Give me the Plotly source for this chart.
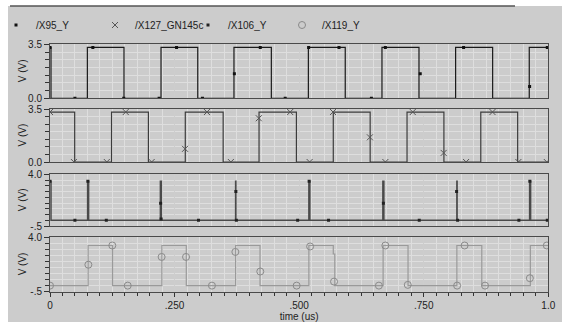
import plotly.graph_objects as go

# ---------------- data (time in us, value in V) ----------------
x95_t = [0, 0.002, 0.075, 0.1485, 0.2228, 0.2965, 0.3692, 0.4442, 0.5185, 0.5925, 0.6662, 0.7405, 0.814, 0.8883, 0.9618, 1.0]
x95_v = [3.3, 0, 3.3, 0, 3.3, 0, 3.3, 0, 3.3, 0, 3.3, 0, 3.3, 0, 3.3, 3.3]
x95_mt = [0, 0.05, 0.086, 0.148, 0.219, 0.254, 0.306, 0.37, 0.422, 0.472, 0.519, 0.58, 0.645, 0.673, 0.743, 0.83, 0.9625, 0.998]
x95_mv = [3.3, 0, 3.3, 0, 0, 3.3, 0, 1.59, 3.3, 0, 3.3, 3.3, 0, 3.3, 1.59, 3.3, 0.76, 3.3]

x127_t = [0, 0.0495, 0.1235, 0.1975, 0.2715, 0.3475, 0.4195, 0.4945, 0.5685, 0.6425, 0.7165, 0.7905, 0.8645, 0.9385, 1.0]
x127_v = [3.3, 0, 3.3, 0, 3.3, 0, 3.3, 0, 3.3, 0, 3.3, 0, 3.3, 0, 0]
x127_mt = [0, 0.048, 0.114, 0.152, 0.204, 0.271, 0.315, 0.363, 0.419, 0.482, 0.521, 0.568, 0.642, 0.673, 0.728, 0.79, 0.835, 0.888, 0.94, 0.997]
x127_mv = [3.3, 0, 0, 3.3, 0, 0.87, 3.3, 0, 2.89, 3.3, 0, 3.3, 1.63, 0, 3.3, 0.6, 0, 3.3, 0, 0]

x106_t = [0, 0.002, 0.0755, 0.0775, 0.2215, 0.2235, 0.3725, 0.373, 0.5195, 0.5215, 0.668, 0.67, 0.8165, 0.817, 0.9625, 0.9645, 1.0]
x106_v = [3.4, 0, 3.4, 0, 3.4, 0, 3.4, 0, 3.4, 0, 3.4, 0, 3.4, 0, 3.4, 0, 0]
x106_mt = [0, 0.05, 0.076, 0.113, 0.222, 0.223, 0.298, 0.373, 0.374, 0.497, 0.52, 0.559, 0.669, 0.741, 0.816, 0.818, 0.941, 0.963, 0.998]
x106_mv = [3.4, 0, 3.4, 0, 1.48, 0.1, 0, 2.5, 0, 0, 3.4, 0, 1.48, 0, 2.5, 0, 0, 3.4, 0]

x119_t = [0, 0.0765, 0.1255, 0.2245, 0.2735, 0.3725, 0.4215, 0.5195, 0.5685, 0.5715, 0.6685, 0.7185, 0.8165, 0.8665, 0.964, 1.0]
x119_v = [0, 3.3, 0, 3.3, 0, 3.3, 0, 3.3, 2.6, 0, 3.3, 0, 3.3, 0, 3.3, 3.3]
x119_mt = [0, 0.077, 0.125, 0.156, 0.224, 0.273, 0.325, 0.372, 0.422, 0.495, 0.522, 0.57, 0.66, 0.673, 0.718, 0.817, 0.832, 0.873, 0.963, 0.997]
x119_mv = [0, 1.72, 3.3, 0, 2.36, 2.36, 0, 2.77, 1.16, 0, 3.22, 0.33, 0, 3.3, 0.06, 0, 3.3, 0, 0.61, 3.3]

names = ["/X95_Y", "/X127_GN145c", "/X106_Y", "/X119_Y"]
x_tickvals = [0, 0.25, 0.5, 0.75, 1.0]
x_ticktext = ["0", ".250", ".500", ".750", "1.0"]
y_ranges = [[0, 3.5], [0, 3.5], [-0.5, 4.0], [-0.5, 4.0]]
y_ticktext = [["0.0", "3.5"], ["0.0", "3.5"], ["-.5", "4.0"], ["-.5", "4.0"]]

W, H = 562, 324
def py(p):
    return 1 - p / H

FONT = "Liberation Sans, Arial, sans-serif"
x_dom = [50 / W, 548.3 / W]
y_doms = [[py(98.3), py(44.3)], [py(162), py(109)], [py(226), py(174.3)], [py(291.7), py(237)]]
legend_text_x = [36, 135, 228, 322]

series = [
    (x95_t, x95_v, x95_mt, x95_mv, "#1a1a1a", 1.2, dict(symbol="square", size=3, color="#111")),
    (x127_t, x127_v, x127_mt, x127_mv, "#3c3c3c", 1.2, dict(symbol="x-thin-open", size=6, color="#555", line=dict(width=1, color="#555"))),
    (x106_t, x106_v, x106_mt, x106_mv, "#4a4a4a", 1.5, dict(symbol="square", size=3, color="#222")),
    (x119_t, x119_v, x119_mt, x119_mv, "#9a9a9a", 1.2, dict(symbol="circle-open", size=7, color="#8a8a8a", line=dict(width=1, color="#8a8a8a"))),
]

fig = go.Figure()
for i, (t, v, mt, mv, col, lw, mk) in enumerate(series):
    xa = "x" if i == 0 else f"x{i+1}"
    ya = "y" if i == 0 else f"y{i+1}"
    lg = "legend" if i == 0 else f"legend{i+1}"
    fig.add_trace(go.Scatter(x=t, y=v, mode="lines", line=dict(color=col, width=lw, shape="hv"),
                             xaxis=xa, yaxis=ya, showlegend=False, hoverinfo="skip"))
    fig.add_trace(go.Scatter(x=mt, y=mv, mode="markers", marker=mk, name=names[i],
                             xaxis=xa, yaxis=ya, showlegend=True, legend=lg))

layout = dict(
    width=W, height=H,
    margin=dict(l=0, r=0, t=0, b=0, autoexpand=False),
    paper_bgcolor="#ffffff",
    plot_bgcolor="#efefef",
    font=dict(family=FONT, size=10, color="#222"),
    shapes=[
        dict(type="rect", xref="paper", yref="paper", x0=8 / W, x1=1, y0=py(322), y1=py(6),
             fillcolor="#cccccc", line=dict(width=0), layer="below"),
        dict(type="line", xref="paper", yref="paper", x0=10 / W, x1=515 / W, y0=py(6), y1=py(6),
             line=dict(color="#555", width=1.5), layer="above"),
    ],
    annotations=[],
)

for i in range(4):
    lg = "legend" if i == 0 else f"legend{i+1}"
    layout[lg] = dict(orientation="h", x=(legend_text_x[i] - 40) / W, xanchor="left",
                      y=py(25), yanchor="middle", bgcolor="rgba(0,0,0,0)",
                      font=dict(family=FONT, size=10, color="#222"))

for i in range(4):
    sx = "xaxis" if i == 0 else f"xaxis{i+1}"
    sy = "yaxis" if i == 0 else f"yaxis{i+1}"
    anchor_y = "y" if i == 0 else f"y{i+1}"
    anchor_x = "x" if i == 0 else f"x{i+1}"
    bottom = (i == 3)
    layout[sx] = dict(
        domain=x_dom, range=[0, 1], anchor=anchor_y,
        showline=True, mirror=True, linecolor="#4a4a4a", linewidth=1,
        tickmode="array", tickvals=x_tickvals, ticktext=x_ticktext,
        showgrid=True, gridcolor="#cdcdcd", gridwidth=1, zeroline=False,
        showticklabels=bottom, ticks="outside" if bottom else "", ticklen=4, tickcolor="#333",
        tickfont=dict(family=FONT, size=10, color="#222"),
        minor=dict(tickmode="linear", tick0=0, dtick=0.025, showgrid=True, gridcolor="#dedede",
                   ticks="outside" if bottom else "", ticklen=3, tickcolor="#333"),
    )
    if bottom:
        layout[sx]["title"] = dict(text="time (us)", font=dict(family=FONT, size=10, color="#222"), standoff=0)
    lo, hi = y_ranges[i]
    layout[sy] = dict(
        domain=y_doms[i], range=[lo, hi], anchor=anchor_x,
        showline=True, mirror=True, linecolor="#4a4a4a", linewidth=1,
        tickmode="array", tickvals=[lo, hi], ticktext=y_ticktext[i],
        showgrid=False, zeroline=False,
        ticks="outside", ticklen=5, tickcolor="#333",
        tickfont=dict(family=FONT, size=10, color="#222"),
        minor=dict(tickmode="linear", tick0=lo, dtick=0.5, showgrid=True, gridcolor="#dedede",
                   ticks="outside", ticklen=4, tickcolor="#333"),
    )
    layout["annotations"].append(dict(
        text="V (V)", textangle=-90, xref="paper", yref="paper",
        x=22 / W, y=(y_doms[i][0] + y_doms[i][1]) / 2, xanchor="center", yanchor="middle",
        showarrow=False, font=dict(family=FONT, size=10, color="#222")))

fig.update_layout(**layout)
fig.write_html("out.html", config={"displayModeBar": False},
               post_script="document.body.style.margin='0px';document.body.style.overflow='hidden';")
